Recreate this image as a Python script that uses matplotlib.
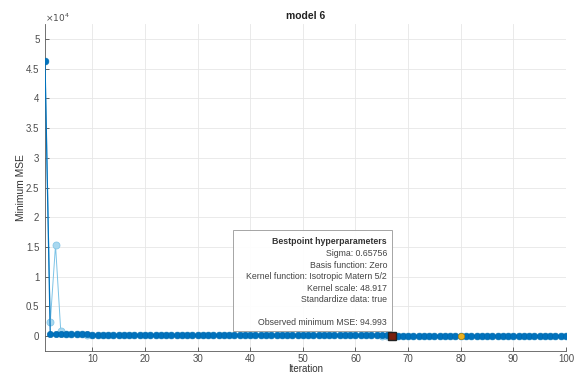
import matplotlib
matplotlib.use('Agg')
import matplotlib.pyplot as plt
from matplotlib.patches import Rectangle
from matplotlib.ticker import FuncFormatter

# ---- Optimisation trace (100 iterations) ----
iterations = list(range(1, 101))

# Minimum observed MSE (step-wise non-increasing)
min_observed = ([46300, 420, 420, 420]
                + [310] * 5
                + [260] * 8
                + [190] * 8
                + [150] * 15
                + [128] * 12
                + [110] * 14
                + [94.993] * 34)

# Estimated minimum MSE from the surrogate model
est_minimum = ([46300, 2300, 15300, 800]
               + [330, 300, 290, 280, 270, 260, 250, 240, 230, 220]
               + [210] * 10 + [180] * 10 + [150] * 10
               + [130] * 10 + [115] * 10 + [105] * 10
               + [98] * 10 + [96] * 16)

best_iter = 67
best_mse = 94.993
model_best_iter = 80
model_best_mse = 94.993

y_ticks = [0, 5000, 10000, 15000, 20000, 25000, 30000, 35000, 40000, 45000, 50000]
x_ticks = [10, 20, 30, 40, 50, 60, 70, 80, 90, 100]

tooltip_title = 'Bestpoint hyperparameters'
tooltip_lines = ['Sigma: 0.65756',
                 'Basis function: Zero',
                 'Kernel function: Isotropic Matern 5/2',
                 'Kernel scale: 48.917',
                 'Standardize data: true',
                 '',
                 'Observed minimum MSE: 94.993']

plt.rcParams['font.family'] = ['Liberation Sans', 'DejaVu Sans']

fig = plt.figure(figsize=(5.79, 3.76), dpi=100)
ax = fig.add_axes([0.0777, 0.0665, 0.8998, 0.8695])

tick_col = '#4d4d4d'

ax.plot(iterations, est_minimum, '-o', color='#7cc3e6', lw=0.7,
        markersize=5, markerfacecolor='#a9d8ef', markeredgecolor='#86c7e8',
        markeredgewidth=0.6, zorder=2)
ax.plot(iterations, min_observed, '-o', color='#0072BD', lw=0.9,
        markersize=4.6, markerfacecolor='#0072BD', markeredgecolor='#0066aa',
        markeredgewidth=0.4, zorder=3)
ax.plot([model_best_iter], [model_best_mse], 'o', markersize=4.5,
        markerfacecolor='#EDB120', markeredgecolor='#b8860b',
        markeredgewidth=0.5, zorder=4)
ax.plot([best_iter], [best_mse], 's', markersize=5.5,
        markerfacecolor='#7a1f0e', markeredgecolor='#222222',
        markeredgewidth=1.0, zorder=5)

ax.set_xlim(1, 100)
ax.set_ylim(-2500, 52500)
ax.set_xticks(x_ticks)
ax.set_yticks(y_ticks)
ax.yaxis.set_major_formatter(FuncFormatter(lambda v, p: '%g' % (v / 1e4)))
ax.grid(True, color='#e6e6e6', lw=0.6)
ax.set_axisbelow(True)

for side in ('top', 'right'):
    ax.spines[side].set_visible(False)
for side in ('left', 'bottom'):
    ax.spines[side].set_color('#5a5a5a')
    ax.spines[side].set_linewidth(0.6)
ax.tick_params(direction='in', length=3, width=0.6, colors=tick_col,
               labelsize=7, pad=4)
ax.tick_params(axis='x', pad=2.5)

ax.text(0.0, 1.0, r'$\times10^4$', transform=ax.transAxes,
        fontsize=6.5, color=tick_col, ha='left', va='bottom')
ax.set_title('model 6', fontsize=7.5, fontweight='bold', color='#222222', pad=4)
ax.set_ylabel('Minimum MSE', fontsize=7.4, color='#333333', labelpad=0)
ax.set_xlabel('Iteration', fontsize=7, color='#333333', labelpad=0)

# ---- Datatip box anchored just above the best point ----
x0, y0 = 233 / 579, 1 - 331 / 376
w, h = 159 / 579, 101 / 376
fig.patches.append(Rectangle((x0, y0), w, h, transform=fig.transFigure,
                             facecolor='white', edgecolor='#a0a0a0',
                             lw=0.7, alpha=0.95, zorder=6))
tx = 387 / 579
fig.text(tx, 1 - 242 / 376, tooltip_title, fontsize=6.3, fontweight='bold',
         color='#333333', ha='right', va='center', zorder=7)
fig.text(tx, 1 - 249 / 376, '\n'.join(tooltip_lines), fontsize=6.3,
         color='#444444', ha='right', va='top', linespacing=1.36, zorder=7)

fig.savefig('out.png', dpi=100, facecolor='white')
